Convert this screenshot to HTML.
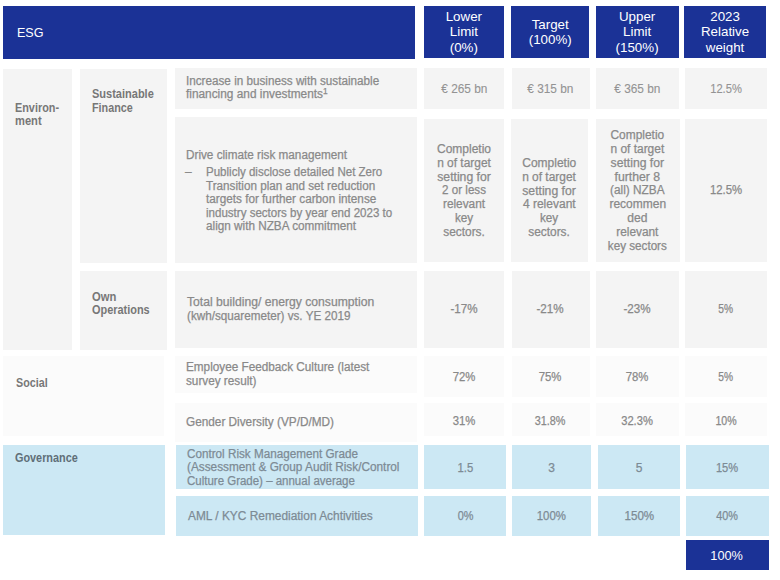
<!DOCTYPE html>
<html>
<head>
<meta charset="utf-8">
<title>ESG</title>
<style>
html,body{margin:0;padding:0;}
body{width:780px;height:580px;background:#fff;position:relative;overflow:hidden;
  font-family:"Liberation Sans",sans-serif;font-size:12px;color:#898989;-webkit-text-stroke:0.25px currentColor;}
.c{position:absolute;box-sizing:border-box;display:flex;align-items:center;justify-content:center;text-align:center;line-height:13.8px;}
.in{display:block;}
.ln{display:block;white-space:nowrap;transform-origin:50% 50%;}
.l .ln{width:max-content;transform-origin:0 50%;}
.g{background:#f4f4f4;}
.s{background:#fbfbfb;}
.v{background:#cce8f4;color:#7d8b95;}
.h{background:#1b3296;color:#fff;line-height:15.33px;-webkit-text-stroke:0;}
.l{justify-content:flex-start;text-align:left;}
.top{align-items:flex-start;}
.lt{color:#939393;-webkit-text-stroke:0.1px currentColor;}
.b{font-weight:bold;color:#777;line-height:13.7px;-webkit-text-stroke:0;}
.v.b{color:#5f6f78;}
.bl{margin-top:3.7px;padding-left:19.5px;position:relative;line-height:13.5px;}
.dash{position:absolute;left:-1px;top:0;}
sup{font-size:8.5px;line-height:0;letter-spacing:0;vertical-align:4px;}
</style>
</head>
<body>
<div class="c h l" style="left:3px;top:6px;width:412px;height:52.7px;font-size:13.33px;padding-left:13.8px;"><div class="in"><span class="ln" style="transform:scaleX(0.941)">ESG</span></div></div>
<div class="c h" style="left:423.6px;top:5.9px;width:80.5px;height:52.1px;font-size:13.33px;"><div class="in"><span class="ln">Lower</span><span class="ln">Limit</span><span class="ln">(0%)</span></div></div>
<div class="c h" style="left:511.2px;top:5.9px;width:78px;height:52.1px;font-size:13.33px;"><div class="in"><span class="ln">Target</span><span class="ln">(100%)</span></div></div>
<div class="c h" style="left:595.6px;top:5.9px;width:83px;height:52.1px;font-size:13.33px;"><div class="in"><span class="ln">Upper</span><span class="ln">Limit</span><span class="ln">(150%)</span></div></div>
<div class="c h" style="left:684px;top:5.9px;width:82.1px;height:52.1px;font-size:13.33px;"><div class="in"><span class="ln">2023</span><span class="ln">Relative</span><span class="ln">weight</span></div></div>
<div class="c g l b top" style="left:2.5px;top:68.5px;width:69.5px;height:281.5px;padding-left:12.5px;padding-top:33px;"><div class="in"><span class="ln" style="transform:scaleX(0.904)">Environ-</span><span class="ln" style="transform:scaleX(0.9277)">ment</span></div></div>
<div class="c g l b top" style="left:80px;top:68.7px;width:86.8px;height:194.3px;padding-left:11.6px;padding-top:19.6px;"><div class="in"><span class="ln" style="transform:scaleX(0.9176)">Sustainable</span><span class="ln" style="transform:scaleX(0.8977)">Finance</span></div></div>
<div class="c g l b top" style="left:80px;top:271px;width:87.3px;height:79.2px;padding-left:12px;padding-top:19.5px;"><div class="in"><span class="ln" style="transform:scaleX(0.935)">Own</span><span class="ln" style="transform:scaleX(0.9109)">Operations</span></div></div>
<div class="c s l b top" style="left:3px;top:356px;width:160.8px;height:80px;padding-left:13px;padding-top:20.6px;"><div class="in"><span class="ln" style="transform:scaleX(0.8967)">Social</span></div></div>
<div class="c v l b top" style="left:2.6px;top:445.3px;width:162.2px;height:90.2px;padding-left:12.5px;padding-top:6.4px;"><div class="in"><span class="ln" style="transform:scaleX(0.904)">Governance</span></div></div>
<div class="c g l" style="left:175px;top:68px;width:241.5px;height:40.5px;line-height:13.5px;padding-left:11px;"><div class="in"><span class="ln" style="transform:scaleX(0.975)">Increase in business with sustainable</span><span class="ln" style="transform:scaleX(0.9874)">financing and investments<sup>1</sup></span></div></div>
<div class="c g lt" style="left:424px;top:68px;width:80px;height:40.5px;"><div class="in" style="position:relative;top:1.3px"><span class="ln" style="transform:scaleX(0.9883)">€ 265 bn</span></div></div>
<div class="c g lt" style="left:511.5px;top:68px;width:78px;height:40.5px;"><div class="in" style="position:relative;top:1.3px"><span class="ln" style="transform:scaleX(0.9883)">€ 315 bn</span></div></div>
<div class="c g lt" style="left:596px;top:68px;width:83px;height:40.5px;"><div class="in" style="position:relative;top:1.3px"><span class="ln" style="transform:scaleX(0.9883)">€ 365 bn</span></div></div>
<div class="c g lt" style="left:684.5px;top:68px;width:82.5px;height:40.5px;"><div class="in" style="position:relative;top:1.3px"><span class="ln" style="transform:scaleX(0.9314)">12.5%</span></div></div>
<div class="c g l" style="left:175px;top:116.5px;width:241.5px;height:146.5px;padding-left:11px;"><div class="in" style="position:relative;top:1.5px"><span class="ln" style="transform:scaleX(0.9777)">Drive climate risk management</span><div class="bl"><span class="dash">–</span><span class="ln" style="transform:scaleX(0.9611)">Publicly disclose detailed Net Zero</span><span class="ln" style="transform:scaleX(0.9741)">Transition plan and set reduction</span><span class="ln" style="transform:scaleX(0.9781)">targets for further carbon intense</span><span class="ln" style="transform:scaleX(0.9625)">industry sectors by year end 2023 to</span><span class="ln" style="transform:scaleX(0.9786)">align with NZBA commitment</span></div></div></div>
<div class="c g" style="left:423.6px;top:118.5px;width:80.8px;height:143.3px;"><div class="in" style="position:relative;top:1.2px"><span class="ln">Completio</span><span class="ln" style="transform:scaleX(0.9945)">n of target</span><span class="ln" style="transform:scaleX(1.0152)">setting for</span><span class="ln" style="transform:scaleX(0.9658)">2 or less</span><span class="ln" style="transform:scaleX(0.9871)">relevant</span><span class="ln" style="transform:scaleX(0.9746)">key</span><span class="ln" style="transform:scaleX(0.9909)">sectors.</span></div></div>
<div class="c g" style="left:511px;top:118.5px;width:76.6px;height:143.3px;"><div class="in" style="position:relative;top:8.2px"><span class="ln">Completio</span><span class="ln" style="transform:scaleX(0.9945)">n of target</span><span class="ln" style="transform:scaleX(1.0152)">setting for</span><span class="ln">4 relevant</span><span class="ln" style="transform:scaleX(0.9746)">key</span><span class="ln" style="transform:scaleX(0.9909)">sectors.</span></div></div>
<div class="c g" style="left:595.6px;top:118.5px;width:84.4px;height:143.3px;"><div class="in" style="position:relative;top:1.2px"><span class="ln" style="transform:scaleX(0.9936)">Completio</span><span class="ln" style="transform:scaleX(0.9945)">n of target</span><span class="ln" style="transform:scaleX(1.0152)">setting for</span><span class="ln" style="transform:scaleX(1.0219)">further 8</span><span class="ln" style="transform:scaleX(0.985)">(all) NZBA</span><span class="ln">recommen</span><span class="ln" style="transform:scaleX(1.0079)">ded</span><span class="ln" style="transform:scaleX(0.9871)">relevant</span><span class="ln" style="transform:scaleX(0.9722)">key sectors</span></div></div>
<div class="c g" style="left:684.6px;top:118.5px;width:82.4px;height:143.3px;"><div class="in" style="position:relative;top:1.2px"><span class="ln" style="transform:scaleX(0.946)">12.5%</span></div></div>
<div class="c g l" style="left:175px;top:271px;width:241.5px;height:76.7px;line-height:13.5px;padding-left:12px;"><div class="in" style="position:relative;top:0.5px"><span class="ln" style="transform:scaleX(1.013)">Total building/ energy consumption</span><span class="ln" style="transform:scaleX(0.9739)">(kwh/squaremeter) vs. YE 2019</span></div></div>
<div class="c g" style="left:424px;top:271px;width:80px;height:76.7px;"><div class="in" style="position:relative;top:0.8px"><span class="ln" style="transform:scaleX(0.9702)">-17%</span></div></div>
<div class="c g" style="left:511.5px;top:271px;width:78px;height:76.7px;"><div class="in" style="position:relative;top:0.8px"><span class="ln" style="transform:scaleX(0.9702)">-21%</span></div></div>
<div class="c g" style="left:596px;top:271px;width:83px;height:76.7px;"><div class="in" style="position:relative;top:0.8px"><span class="ln" style="transform:scaleX(0.9702)">-23%</span></div></div>
<div class="c g" style="left:684.5px;top:271px;width:82.5px;height:76.7px;"><div class="in" style="position:relative;top:0.8px"><span class="ln" style="transform:scaleX(0.8487)">5%</span></div></div>
<div class="c s l" style="left:175px;top:356px;width:241.5px;height:37.2px;line-height:13.5px;padding-left:11px;"><div class="in"><span class="ln" style="transform:scaleX(0.9783)">Employee Feedback Culture (latest</span><span class="ln" style="transform:scaleX(0.9789)">survey result)</span></div></div>
<div class="c s" style="left:424px;top:356px;width:80px;height:40.6px;"><div class="in" style="position:relative;top:2px"><span class="ln" style="transform:scaleX(0.9446)">72%</span></div></div>
<div class="c s" style="left:511.5px;top:356px;width:78px;height:40.6px;"><div class="in" style="position:relative;top:2px"><span class="ln" style="transform:scaleX(0.9446)">75%</span></div></div>
<div class="c s" style="left:596px;top:356px;width:83px;height:40.6px;"><div class="in" style="position:relative;top:2px"><span class="ln" style="transform:scaleX(0.9446)">78%</span></div></div>
<div class="c s" style="left:684.5px;top:356px;width:82.5px;height:40.6px;"><div class="in" style="position:relative;top:2px"><span class="ln" style="transform:scaleX(0.8487)">5%</span></div></div>
<div class="c s l" style="left:175px;top:402.5px;width:241.5px;height:39.5px;padding-left:11px;"><div class="in" style="position:relative;top:0.7px"><span class="ln" style="transform:scaleX(0.9821)">Gender Diversity (VP/D/MD)</span></div></div>
<div class="c s" style="left:424px;top:403px;width:80px;height:33.2px;"><div class="in" style="position:relative;top:2px"><span class="ln" style="transform:scaleX(0.9446)">31%</span></div></div>
<div class="c s" style="left:511.5px;top:403px;width:78px;height:33.2px;"><div class="in" style="position:relative;top:2px"><span class="ln" style="transform:scaleX(0.9023)">31.8%</span></div></div>
<div class="c s" style="left:596px;top:403px;width:83px;height:33.2px;"><div class="in" style="position:relative;top:2px"><span class="ln" style="transform:scaleX(0.9314)">32.3%</span></div></div>
<div class="c s" style="left:684.5px;top:403px;width:82.5px;height:33.2px;"><div class="in" style="position:relative;top:2px"><span class="ln" style="transform:scaleX(0.883)">10%</span></div></div>
<div class="c v l" style="left:176px;top:445.3px;width:241.5px;height:44px;line-height:13.8px;padding-left:11px;"><div class="in" style="position:relative;top:1px"><span class="ln" style="transform:scaleX(0.9742)">Control Risk Management Grade</span><span class="ln" style="transform:scaleX(0.9834)">(Assessment &amp; Group Audit Risk/Control</span><span class="ln" style="transform:scaleX(0.9569)">Culture Grade) – annual average</span></div></div>
<div class="c v" style="left:424.4px;top:445.3px;width:81.6px;height:44px;"><div class="in" style="position:relative;top:1.5px"><span class="ln" style="transform:scaleX(0.9407)">1.5</span></div></div>
<div class="c v" style="left:512px;top:445.3px;width:79px;height:44px;"><div class="in" style="position:relative;top:1.5px"><span class="ln">3</span></div></div>
<div class="c v" style="left:598px;top:445.3px;width:82.4px;height:44px;"><div class="in" style="position:relative;top:1.5px"><span class="ln">5</span></div></div>
<div class="c v" style="left:685.6px;top:445.3px;width:83px;height:44px;"><div class="in" style="position:relative;top:1.5px"><span class="ln" style="transform:scaleX(0.9241)">15%</span></div></div>
<div class="c v l" style="left:176px;top:495.7px;width:241.5px;height:40px;padding-left:11.6px;"><div class="in" style="position:relative;top:1.5px"><span class="ln" style="transform:scaleX(0.9914)">AML / KYC Remediation Achtivities</span></div></div>
<div class="c v" style="left:424.4px;top:495.7px;width:81.6px;height:40px;"><div class="in" style="position:relative;top:1.5px"><span class="ln" style="transform:scaleX(0.9053)">0%</span></div></div>
<div class="c v" style="left:512px;top:495.7px;width:79px;height:40px;"><div class="in" style="position:relative;top:1.5px"><span class="ln" style="transform:scaleX(0.951)">100%</span></div></div>
<div class="c v" style="left:598px;top:495.7px;width:82.4px;height:40px;"><div class="in" style="position:relative;top:1.5px"><span class="ln" style="transform:scaleX(0.9671)">150%</span></div></div>
<div class="c v" style="left:685.6px;top:495.7px;width:83px;height:40px;"><div class="in" style="position:relative;top:1.5px"><span class="ln" style="transform:scaleX(0.9036)">40%</span></div></div>
<div class="c h" style="left:685.6px;top:539.6px;width:83px;height:30px;font-size:13px;"><div class="in" style="position:relative;top:1px"><span class="ln" style="transform:scaleX(0.9795)">100%</span></div></div>
</body>
</html>
